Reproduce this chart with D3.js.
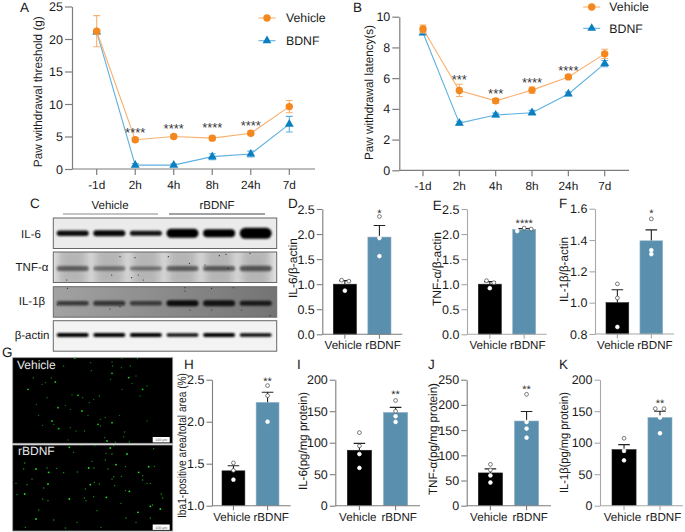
<!DOCTYPE html>
<html><head><meta charset="utf-8">
<script src="https://cdn.jsdelivr.net/npm/d3@7"></script>
<style>html,body{margin:0;padding:0;background:#fff}svg{display:block;text-rendering:geometricPrecision}text{font-family:"Liberation Sans",Arial,sans-serif;fill:#1a1a1a}</style>
</head><body><div id="c"></div>
<script>
// ---------- data ----------
const timePoints = ["-1d","2h","4h","8h","24h","7d"];
const aVehicle = [21.2,4.5,5.0,4.75,5.5,9.6];
const aVehicleErr = [2.4,0.3,0.3,0.3,0.3,0.95];
const aBdnf = [21.1,0.6,0.6,1.9,2.3,6.9];
const aBdnfErr = [0.2,0.25,0.2,0.45,0.45,1.2];
const aStars = ["","****","****","****","****",""];
const aStarLevels = [0,6.1,6.6,6.75,7.2,0];
const bVehicle = [9.2,5.2,4.52,5.22,6.08,7.58];
const bVehicleErr = [0.25,0.4,0.15,0.2,0.1,0.3];
const bBdnf = [8.95,3.07,3.6,3.75,4.97,6.95];
const bBdnfErr = [0.1,0.12,0.12,0.15,0.12,0.2];
const bStars = ["","***","***","****","****",""];
const bStarLevels = [0,6.12,5.18,5.92,6.66,0];
const groups = ["Vehicle","rBDNF"];
const dMeans=[1.0,1.94], dErr=[0.07,0.23], dPts=[[0.87,1.08,1.06],[2.35,1.92,1.56]];
const eMeans=[1.0,2.09], eErr=[0.05,0.02], ePts=[[0.92,1.07,1.03],[2.06,2.12,2.10]];
const fMeans=[1.0,1.395], fErr=[0.083,0.07], fPts=[[0.845,1.03,1.12],[1.31,1.335,1.535]];
const hMeans=[1.415,2.23], hErr=[0.06,0.12], hPts=[[1.31,1.42,1.51],[2.0,2.31,2.43]];
const iMeans=[88,148], iErr=[11,8], iPts=[[60,82,95,116],[133,142,150,167]];
const jMeans=[65,168], jErr=[8,19], jPts=[[46,60,71,82],[135,153,166,221]];
const kMeans=[89,140], kErr=[8,10], kPts=[[72,87,107],[115,140,154,154]];
const blotLanes=[0,1,2,3,4,5];
const il6Bands=[.95,.97,.92,1,1,1], il6Thick=[5.5,6,5,9,8,11];
const tnfBands=[.5,.42,.42,.5,.52,.55], tnfThick=[5,4.5,4,5,5,5.5];
const il1Bands=[.65,.65,.6,.9,.85,.8], il1Thick=[4.5,5,4.5,6,6,5];
const actinBands=[1,1,1,.95,1,.97], actinThick=[4.2,4,4,3.5,4,3.5];
const tnfSpecks=[[210,125],[255,128],[355,125],[508,122],[528,118],[600,115],[418,145],[465,150],[535,160],[245,188],[280,195],[265,180],[50,195],[185,180]];
const il1Specks=[[52,10],[405,8],[405,18],[485,10],[550,8],[210,65],[420,75],[485,75],[575,75],[660,92],[180,72],[22,60]];
const vehicleCells=[[188,6],[236,20],[300,18],[302,30],[330,5],[376,8],[355,30],[328,35],[300,52],[238,44],[64,66],[100,80],[130,78],[90,85],[118,66],[296,70],[350,65],[372,60],[360,82],[405,90],[392,100],[384,120],[262,120],[212,125],[198,118],[180,117],[105,125],[73,145],[138,155],[160,148],[175,160],[80,178],[210,165],[232,140],[228,178],[265,190],[300,200],[322,178],[280,185],[405,195],[140,218],[192,225],[218,225],[265,210],[258,205],[338,228],[278,245],[335,242],[285,255],[168,252],[310,258],[352,258],[120,195],[92,208],[245,130],[330,100],[48,100],[155,30],[125,205],[175,215]];
const bdnfCells=[[172,10],[185,25],[210,3],[248,5],[295,12],[305,5],[282,28],[300,30],[345,30],[425,14],[280,48],[240,52],[230,72],[246,72],[134,73],[105,72],[72,75],[38,57],[35,75],[288,75],[312,62],[340,68],[196,84],[155,86],[110,85],[305,98],[300,105],[328,97],[380,85],[392,95],[392,108],[427,67],[410,68],[60,105],[262,120],[247,115],[235,122],[308,125],[405,118],[415,118],[108,120],[95,132],[45,122],[12,118],[38,150],[15,152],[220,135],[340,140],[352,142],[245,158],[92,165],[108,170],[172,165],[217,162],[222,170],[327,178],[415,187],[422,183],[448,150],[452,162],[445,195],[80,198],[255,200],[342,222],[378,205],[415,222],[372,235],[40,250],[72,225],[125,228],[160,252],[195,235],[283,160],[267,250]];

// ---------- drawing ----------
const W=685,H=532,ORANGE="#f5871f",ORANGE_L="#f9b06e",BLUE="#0b7fc0",BLUE_L="#5fb0e0",BAR="#5a8fae",AX="#7d7d7d";
const svg=d3.select("#c").append("svg").attr("width",W).attr("height",H);
const defs=svg.append("defs");
defs.append("filter").attr("id","b1").attr("x","-20%").attr("y","-80%").attr("width","140%").attr("height","260%").append("feGaussianBlur").attr("stdDeviation","1.1");
defs.append("filter").attr("id","b2").attr("x","-30%").attr("y","-30%").attr("width","160%").attr("height","160%").append("feGaussianBlur").attr("stdDeviation","4");
defs.append("filter").attr("id","b3").attr("x","-100%").attr("y","-100%").attr("width","300%").attr("height","300%").append("feGaussianBlur").attr("stdDeviation","0.4");
const grad=defs.append("linearGradient").attr("id","il1bg");
grad.append("stop").attr("offset","0").attr("stop-color","#a2a2a2");
grad.append("stop").attr("offset","1").attr("stop-color","#747474");

function label(t,x,y){svg.append("text").attr("x",x).attr("y",y).attr("font-size",13.5).text(t);}
function yTitle(t,x,y,fs,len){const e=svg.append("text").attr("transform",`translate(${x},${y}) rotate(-90)`).attr("text-anchor","middle").attr("font-size",fs).text(t);if(len)e.attr("textLength",len).attr("lengthAdjust","spacingAndGlyphs");}
function styleAxis(g,color,w){g.selectAll(".domain").attr("stroke",color).attr("stroke-width",w);g.selectAll(".tick line").attr("stroke",color).attr("stroke-width",w);g.selectAll("text").attr("font-family",'"Liberation Sans",Arial,sans-serif').attr("fill","#1a1a1a");}

function linePanel(o){
  const x=d3.scalePoint().domain(timePoints).range([o.x0,o.x1]);
  const y=d3.scaleLinear().domain(o.yDom).range([o.yB,o.yT]);
  const gy=svg.append("g").attr("transform",`translate(${o.ax},0)`).call(d3.axisLeft(y).tickValues(o.yTicks).tickSize(7).tickSizeOuter(0).tickPadding(2));
  gy.attr("font-size",12.5);styleAxis(gy,AX,1.2);
  const gx=svg.append("g").attr("transform",`translate(0,${o.yB})`);
  gx.append("line").attr("x1",o.ax).attr("x2",o.end).attr("stroke",AX).attr("stroke-width",1.2);
  gx.selectAll("g").data(timePoints).join("g").attr("transform",d=>`translate(${x(d)},0)`).each(function(d){
    const s=d3.select(this);s.append("line").attr("y2",6).attr("stroke",AX).attr("stroke-width",1.2);
    s.append("text").attr("y",19.5).attr("text-anchor","middle").attr("font-size",11.8).text(d);});
  const series=[{v:o.b,e:o.be,c:BLUE,l:BLUE_L,tri:true},{v:o.a,e:o.ae,c:ORANGE,l:ORANGE_L,tri:false}];
  series.forEach(s=>{
    const pts=timePoints.map((t,i)=>({t,v:s.v[i],e:s.e[i]}));
    svg.append("path").attr("fill","none").attr("stroke",s.l).attr("stroke-width",1.1).attr("d",d3.line().x(d=>x(d.t)).y(d=>y(d.v))(pts));
    const g=svg.append("g").selectAll("g").data(pts).join("g");
    g.append("path").attr("fill","none").attr("stroke",s.l).attr("stroke-width",1.1).attr("d",d=>`M${x(d.t)-3.5},${y(d.v+d.e)}h7M${x(d.t)},${y(d.v+d.e)}V${y(d.v-d.e)}M${x(d.t)-3.5},${y(d.v-d.e)}h7`);
    if(s.tri)g.append("path").attr("fill",s.c).attr("d",d3.symbol(d3.symbolTriangle,34)).attr("transform",d=>`translate(${x(d.t)},${y(d.v)})`);
    else g.append("circle").attr("fill",s.c).attr("r",3.7).attr("cx",d=>x(d.t)).attr("cy",d=>y(d.v));
  });
  timePoints.forEach((t,i)=>{if(o.stars[i])svg.append("text").attr("x",x(t)).attr("y",y(o.levels[i])+7.3).attr("text-anchor","middle").attr("font-size",13).style("fill","#333").text(o.stars[i]);});
  o.legend.forEach(l=>{
    svg.append("line").attr("x1",l.x-8.5).attr("x2",l.x+8.5).attr("y1",l.y).attr("y2",l.y).attr("stroke",l.tri?BLUE_L:ORANGE_L).attr("stroke-width",1.1);
    if(l.tri)svg.append("path").attr("fill",BLUE).attr("d",d3.symbol(d3.symbolTriangle,34)).attr("transform",`translate(${l.x},${l.y})`);
    else svg.append("circle").attr("fill",ORANGE).attr("r",3.7).attr("cx",l.x).attr("cy",l.y);
    svg.append("text").attr("x",l.tx).attr("y",l.y+4.3).attr("font-size",12.3).text(l.t);
  });
}
linePanel({x0:96.7,x1:289.3,yDom:[0,25],yB:169,yT:6.5,ax:72,end:315,yTicks:[0,5,10,15,20,25],a:aVehicle,ae:aVehicleErr,b:aBdnf,be:aBdnfErr,stars:aStars,levels:aStarLevels,
  legend:[{t:"Vehicle",x:267,tx:286,y:18,tri:false},{t:"BDNF",x:267,tx:286,y:40.7,tri:true}]});
linePanel({x0:423,x1:604.7,yDom:[0,10],yB:170.3,yT:16.7,ax:399.3,end:629,yTicks:[0,2,4,6,8,10],a:bVehicle,ae:bVehicleErr,b:bBdnf,be:bBdnfErr,stars:bStars,levels:bStarLevels,
  legend:[{t:"Vehicle",x:591.7,tx:609.3,y:7,tri:false},{t:"BDNF",x:591.7,tx:609.3,y:28.3,tri:true}]});
yTitle("Paw withdrawal threshold (g)",41.5,91.7,12,151);
yTitle("Paw withdrawal latency(s)",373,92.5,12,135);

function barPanel(o){
  const x=d3.scaleBand().domain(groups).range([o.x0,o.x1]).paddingInner(o.pad||0.33);
  const y=d3.scaleLinear().domain(o.yDom).range([o.yB,o.yT]);
  const gy=svg.append("g").attr("transform",`translate(${o.ax},0)`).call(d3.axisLeft(y).tickValues(o.yTicks).tickFormat(o.fmt).tickSize(5.5).tickSizeOuter(0).tickPadding(2));
  gy.attr("font-size",12.5);styleAxis(gy,o.ac||AX,1.1);
  groups.forEach((g,i)=>{
    const cx=x(g)+x.bandwidth()/2;
    svg.append("line").attr("x1",cx).attr("x2",cx).attr("y1",o.yB).attr("y2",o.yB+4.5).attr("stroke",o.ac||AX).attr("stroke-width",1.1);
    svg.append("text").attr("x",cx+(i?3.6:-1.6)).attr("y",o.yB+15).attr("text-anchor","middle").attr("font-size",11.6).text(g);
    svg.append("path").attr("stroke","#222").attr("stroke-width",1.1).attr("fill","none").attr("d",`M${cx},${y(o.means[i])}V${y(o.means[i]+o.err[i])}M${cx-5.8},${y(o.means[i]+o.err[i])}h11.6`);
    svg.append("rect").attr("x",x(g)).attr("width",x.bandwidth()).attr("y",y(o.means[i])).attr("height",o.yB-y(o.means[i])).attr("fill",i?BAR:"#000").attr("stroke",i?"#8fb3c8":"#222").attr("stroke-width",.6);
    const spread=o.jit?o.jit[i]:o.pts[i].map(()=>0);
    svg.append("g").selectAll("circle").data(o.pts[i]).join("circle").attr("cx",(d,k)=>cx+spread[k]).attr("cy",d=>y(d)).attr("r",1.9).attr("fill","#fff").attr("stroke",d=>d>o.means[i]?"#444":"#fff").attr("stroke-width",.7);
  });
  svg.append("line").attr("x1",o.ax).attr("x2",o.end).attr("y1",o.yB).attr("y2",o.yB).attr("stroke",o.ac||AX).attr("stroke-width",1.1);
  if(o.star)svg.append("text").attr("x",x(groups[1])+x.bandwidth()/2).attr("y",y(o.starAt)+6.6).attr("text-anchor","middle").attr("font-size",11).style("fill","#333").text(o.star);
}
const f1=d3.format(".1f"),f0=d3.format("d");
barPanel({ax:322.3,end:402.3,x0:333.3,x1:391,yDom:[0,2.5],yB:334.3,yT:209,yTicks:[0,.5,1,1.5,2,2.5],fmt:f1,means:dMeans,err:dErr,pts:dPts,jit:[[0,-3.3,4],[0,0,0]],star:"*",starAt:2.48});
barPanel({ax:467,end:546.7,x0:478.3,x1:535.7,ac:"#a8a8a8",yDom:[0,2.5],yB:334.3,yT:209,yTicks:[0,.5,1,1.5,2,2.5],fmt:f1,means:eMeans,err:eErr,pts:ePts,jit:[[0,-3.3,4],[-7,0,7]],star:"****",starAt:2.27});
barPanel({ax:595,end:674,x0:606,x1:662.7,ac:"#a8a8a8",yDom:[.8,1.6],yB:334,yT:208.7,yTicks:[.8,1,1.2,1.4,1.6],fmt:f1,means:fMeans,err:fErr,pts:fPts,star:"*",starAt:1.587});
barPanel({ax:212,end:290.7,x0:222,x1:279,yDom:[1,2.5],yB:505.7,yT:379.7,yTicks:[1,1.5,2,2.5],fmt:f1,means:hMeans,err:hErr,pts:hPts,star:"**",starAt:2.51});
barPanel({ax:335.3,end:420,x0:347.3,x1:407.7,yDom:[0,200],yB:505.7,yT:379.7,yTicks:[0,50,100,150,200],fmt:f0,means:iMeans,err:iErr,pts:iPts,star:"**",starAt:181});
barPanel({ax:466.7,end:551,x0:478.3,x1:538.7,yDom:[0,250],yB:505.7,yT:379.7,yTicks:[0,50,100,150,200,250],fmt:f0,means:jMeans,err:jErr,pts:jPts,star:"**",starAt:236});
barPanel({ax:600,end:683,x0:612,x1:672,ac:"#a8a8a8",yDom:[0,200],yB:505.7,yT:379.7,yTicks:[0,50,100,150,200],fmt:f0,means:kMeans,err:kErr,pts:kPts,jit:[[0,0,0],[0,0,-4.7,4]],star:"**",starAt:167});
yTitle("IL-6/β-actin",297,268,12,60);
yTitle("TNF-α/β-actin",441,269,12,74);
yTitle("IL-1β/β-actin",568,269.5,12,65);
yTitle("Iba1-positive area/total area (%)",186,445.5,12,145);
yTitle("IL-6(pg/mg protein)",307,441,12,98);
yTitle("TNF-α(pg/mg protein)",437,439,12,112);
yTitle("IL-1β(pg/mg protein)",568,442.5,12,101);

// blots
const lane=d3.scalePoint().domain(blotLanes).range([72.7,255.7]);
function blot(o){
  const g=svg.append("g");
  const cid="cl"+Math.round(o.y);
  defs.append("clipPath").attr("id",cid).append("rect").attr("x",53.3).attr("y",o.y).attr("width",223.4).attr("height",30.5);
  const inner=g.append("g").attr("clip-path",`url(#${cid})`);
  inner.append("rect").attr("x",53.3).attr("y",o.y).attr("width",223.4).attr("height",30.5).attr("fill",o.bg);
  if(o.glow)blotLanes.forEach(i=>inner.append("rect").attr("x",lane(i)-15).attr("width",30).attr("y",o.y-6).attr("height",42).attr("fill",o.glow).attr("opacity",o.glowA).attr("filter","url(#b2)"));
  blotLanes.forEach(i=>{
    const t=o.thick[i];
    inner.append("rect").attr("x",lane(i)-16).attr("width",32).attr("y",o.band-t/2).attr("height",t).attr("rx",t/2).attr("fill","#000").attr("opacity",o.dark[i]).attr("filter","url(#b1)");
  });
  if(o.specks)inner.selectAll("circle").data(o.specks).join("circle").attr("cx",d=>50+d[0]/3).attr("cy",d=>o.speckY+d[1]/3).attr("r",.6).attr("fill","#222");
  g.append("rect").attr("x",53.3).attr("y",o.y).attr("width",223.4).attr("height",30.5).attr("fill","none").attr("stroke","#666").attr("stroke-width",1);
}
blot({y:218,bg:"#ebebeb",band:233.3,dark:il6Bands,thick:il6Thick});
blot({y:252,bg:"#e6e6e6",glow:"#9c9c9c",glowA:.65,band:268.5,dark:tnfBands,thick:tnfThick,specks:tnfSpecks,speckY:215});
blot({y:286.7,bg:"url(#il1bg)",band:303.3,dark:il1Bands,thick:il1Thick,specks:il1Specks,speckY:285});
blot({y:320.7,bg:"#f3f3f3",band:335,dark:actinBands,thick:actinThick});
[["IL-6",31,237.7],["TNF-α",32,271],["IL-1β",32,305],["β-actin",32,339]].forEach(d=>svg.append("text").attr("x",d[1]).attr("y",d[2]).attr("text-anchor","middle").attr("font-size",11.5).text(d[0]));
svg.append("text").attr("x",110).attr("y",209).attr("text-anchor","middle").attr("font-size",11.5).text("Vehicle");
svg.append("text").attr("x",217).attr("y",209).attr("text-anchor","middle").attr("font-size",11.5).text("rBDNF");
svg.append("line").attr("x1",63).attr("x2",158).attr("y1",214).attr("y2",214).attr("stroke","#888");
svg.append("line").attr("x1",169).attr("x2",265).attr("y1",214).attr("y2",214).attr("stroke","#444");

// micrographs
function micro(o){
  const fx=d3.scaleLinear().domain([0,486]).range([12,174]);
  const fy=d3.scaleLinear().domain([0,264]).range([o.oy,o.oy+88]);
  defs.append("clipPath").attr("id","m"+Math.round(o.y)).append("rect").attr("x",12.7).attr("y",o.y).attr("width",160).attr("height",o.h);
  svg.append("rect").attr("x",12.7).attr("y",o.y).attr("width",160).attr("height",o.h).attr("fill","#000").attr("stroke","#999").attr("stroke-width",.8);
  svg.append("g").attr("clip-path",`url(#m${Math.round(o.y)})`).selectAll("circle").data(o.cells).join("circle").attr("cx",d=>fx(d[0])).attr("cy",d=>fy(d[1])).attr("r",(d,i)=>i%4==0?.95:.7).attr("fill",(d,i)=>i%4==0?o.bright:o.dim).attr("filter","url(#b3)");
  svg.append("text").attr("x",o.tx).attr("y",o.ty).attr("font-size",12).style("fill","#e8e8e8").text(o.t);
  svg.append("rect").attr("x",152.7).attr("y",o.sy).attr("width",17).attr("height",5.4).attr("fill","#fff");
  svg.append("text").attr("x",161.2).attr("y",o.sy+4).attr("text-anchor","middle").attr("font-size",3.6).style("fill","#555").text("100 μm");
}
micro({y:357.7,h:85.6,oy:356,cells:vehicleCells,bright:"#18c018",dim:"#0e800e",t:"Vehicle",tx:17,ty:369,sy:437});
micro({y:445,h:86,oy:444,cells:bdnfCells,bright:"#20d820",dim:"#12a012",t:"rBDNF",tx:18,ty:455,sy:524.5});

[["A",20,12],["B",353,12],["C",30,208],["D",288,208],["E",432.7,210],["F",559,208],["G",2,357],["H",184,369],["I",297,369],["J",428,369],["K",559,369]].forEach(d=>label(d[0],d[1],d[2]));
</script></body></html>
